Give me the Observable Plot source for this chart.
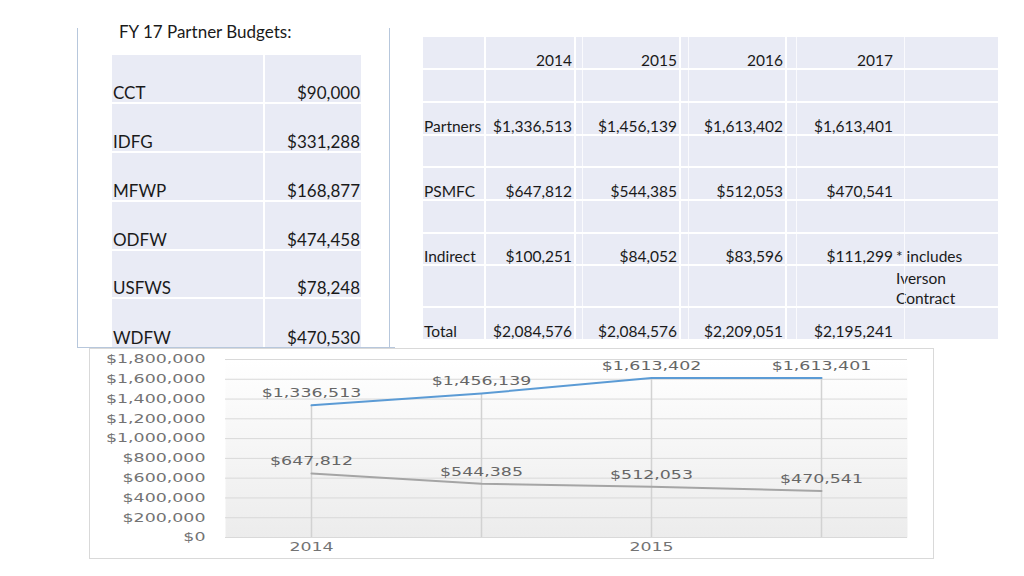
<!DOCTYPE html>
<html><head><meta charset="utf-8">
<script src="https://cdn.jsdelivr.net/npm/d3@7"></script>
<script src="https://cdn.jsdelivr.net/npm/@observablehq/plot@0.6"></script>
<style>
html,body{margin:0;padding:0;background:#fff;}
#slide{position:relative;width:1024px;height:576px;overflow:hidden;font-family:Lato,"Open Sans",sans-serif;color:#1a1a1a;background:#fff;}
.abs{position:absolute;}
.cell{position:absolute;background:#e9ebf5;display:flex;align-items:flex-end;box-sizing:border-box;white-space:nowrap;}
.cell span{position:relative;top:2px;}
.rule{position:absolute;background:#b7c7dc;}
#chartBox{position:absolute;left:89px;top:348px;border:1px solid #d9d9d9;background:#fff;line-height:0;}
</style></head><body><div id="slide"></div>
<script>
// ---------- data ----------
const budgetTitle = "FY 17 Partner Budgets:";
const partnerNames = ["CCT", "IDFG", "MFWP", "ODFW", "USFWS", "WDFW"];
const partnerBudgets = [90000, 331288, 168877, 474458, 78248, 470530];

const years = ["2014", "2015", "2016", "2017"];
const partners = [1336513, 1456139, 1613402, 1613401];
const psmfc = [647812, 544385, 512053, 470541];
const indirect = [100251, 84052, 83596, 111299];
const total = [2084576, 2084576, 2209051, 2195241];
const noteLine1 = "* includes";
const noteLine2 = ["Iverson", "Contract"];

const seriesNames = ["Partners", "PSMFC"];
const seriesColors = ["#5b9bd5", "#a5a5a5"];
const xTickLabels = ["2014", "", "2015", ""];
const yTicks = [0, 200000, 400000, 600000, 800000, 1000000, 1200000, 1400000, 1600000, 1800000];

// ---------- helpers ----------
const fmt = d3.format("$,");
const slide = document.getElementById("slide");
function el(tag, cls, css, text) {
  const e = document.createElement(tag);
  if (cls) e.className = cls;
  Object.assign(e.style, css || {});
  if (text != null) {
    if (cls === "cell") { const s = document.createElement("span"); s.textContent = text; e.appendChild(s); }
    else e.textContent = text;
  }
  slide.appendChild(e);
  return e;
}

// ---------- left table ----------
el("div", "abs", {left: "119px", top: "22px", fontSize: "17px", lineHeight: "20px"}, budgetTitle);
el("div", "rule", {left: "77px", top: "28px", width: "1px", height: "320px"});
el("div", "rule", {left: "389px", top: "28px", width: "1px", height: "320px"});
el("div", "rule", {left: "77px", top: "347px", width: "318px", height: "1px"});

const lRows = [55, 103, 152, 201, 250, 298, 347];
const lCols = [112, 264, 361];
partnerNames.forEach((name, i) => {
  const top = lRows[i] + (i > 0 ? 1 : 0), bottom = lRows[i + 1] - (i < partnerNames.length - 1 ? 1 : 0);
  const common = {top: top + "px", height: (bottom - top) + "px", fontSize: "17px", lineHeight: "20px", paddingBottom: "1px"};
  el("div", "cell", Object.assign({left: lCols[0] + "px", width: (lCols[1] - 1 - lCols[0]) + "px", paddingLeft: "1px"}, common), name);
  el("div", "cell", Object.assign({left: (lCols[1] + 1) + "px", width: (lCols[2] - lCols[1] - 1) + "px", justifyContent: "flex-end", paddingRight: "1px"}, common), fmt(partnerBudgets[i]));
});

// ---------- right table ----------
const rRows = [37, 69, 102, 135, 167, 200, 233, 265, 307, 339];
const rCols = [423, 485, 575, 680, 786, 896, 1000];
const rContent = [
  ["", ...years, ""],
  ["", "", "", "", "", ""],
  ["Partners", ...partners.map(fmt), ""],
  ["", "", "", "", "", ""],
  ["PSMFC", ...psmfc.map(fmt), ""],
  ["", "", "", "", "", ""],
  ["Indirect", ...indirect.map(fmt), noteLine1],
  ["", "", "", "", "", noteLine2.join("\n")],
  ["Total", ...total.map(fmt), ""]
];
rContent.forEach((row, r) => {
  const top = rRows[r] + (r > 0 ? 1 : 0), bottom = rRows[r + 1] - (r < rContent.length - 1 ? 1 : 0);
  row.forEach((txt, c) => {
    const left = rCols[c] + (c > 0 ? 1 : 0), right = rCols[c + 1] - (c < row.length - 1 ? 1 : 0);
    const css = {left: left + "px", top: top + "px", width: (right - left) + "px", height: (bottom - top) + "px",
      fontSize: "15.5px", lineHeight: "20px", paddingBottom: "0px"};
    if (c >= 1 && c <= 4) { css.justifyContent = "flex-end"; css.paddingRight = "2px"; }
    else css.paddingLeft = "1px";
    if (c === 5) { css.whiteSpace = "pre"; css.overflow = "visible"; css.marginLeft = "-2px"; }
    el("div", "cell", css, txt);
  });
});
// faint secondary column lines
[582, 688, 796, 904].forEach(x => {
  el("div", "abs", {left: x + "px", top: "37px", width: "1px", height: "302px", background: "rgba(255,255,255,0.75)"});
});

// ---------- chart ----------
const chartData = years.flatMap((yr, i) => [
  {year: yr, series: seriesNames[0], value: partners[i]},
  {year: yr, series: seriesNames[1], value: psmfc[i]}
]);
const dropData = years.map((yr, i) => ({year: yr, top: Math.max(partners[i], psmfc[i])}));

const chart = Plot.plot({
  width: 843, height: 209,
  marginLeft: 135, marginRight: 26, marginTop: 10, marginBottom: 21,
  style: {fontFamily: "DejaVu Sans", fontSize: "12px", background: "transparent", overflow: "visible"},
  x: {type: "point", domain: years, padding: 0.5, axis: null},
  y: {domain: [0, 1800000], axis: null},
  color: {domain: seriesNames, range: seriesColors},
  marks: [
    Plot.frame({fill: "url(#plotGrad)", stroke: "none"}),
    Plot.gridY(yTicks, {stroke: "#d9d9d9", strokeOpacity: 1, strokeWidth: 1}),
    Plot.ruleX(dropData, {x: "year", y1: 0, y2: "top", stroke: "#d2d2d2", strokeWidth: 1.5}),
    Plot.axisY(yTicks, {tickFormat: fmt, tickSize: 0, tickPadding: 20, fill: "#737373", fontSize: 12, label: null}),
    Plot.axisX(years, {tickFormat: d => xTickLabels[years.indexOf(d)], tickSize: 0, tickPadding: 5, fill: "#737373", fontSize: 12, label: null}),
    Plot.line(chartData, {x: "year", y: "value", z: "series", stroke: "series", strokeWidth: 2}),
    Plot.text(chartData, {x: "year", y: "value", text: d => fmt(d.value), dy: -12, fill: "#666666", fontSize: 12})
  ]
});
d3.select(chart).insert("defs", ":first-child").html(
  '<linearGradient id="plotGrad" x1="0" y1="0" x2="0" y2="1">' +
  '<stop offset="0" stop-color="#ffffff"/><stop offset="1" stop-color="#ececec"/></linearGradient>');
// widen glyphs horizontally around their anchor
d3.select(chart).selectAll("text").each(function() {
  const t = this.getAttribute("transform") || "";
  this.setAttribute("transform", t + " scale(1.45,1)");
});
const box = document.createElement("div");
box.id = "chartBox";
box.appendChild(chart);
slide.appendChild(box);
</script>
</body></html>
